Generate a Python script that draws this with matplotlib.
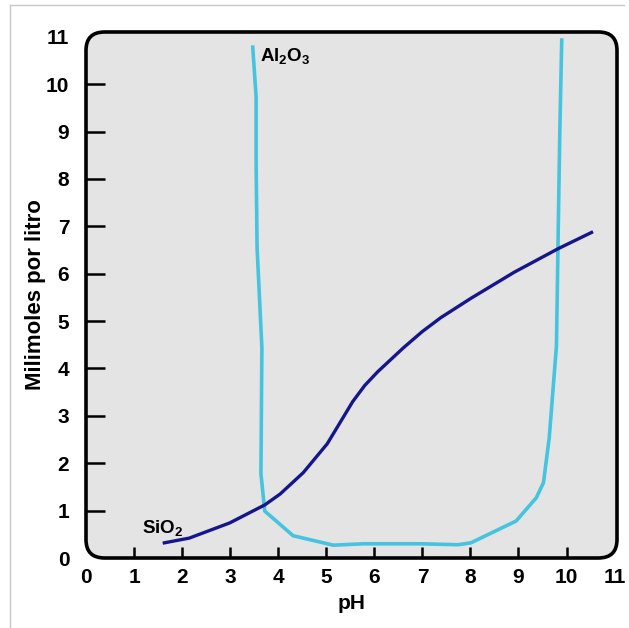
import matplotlib.pyplot as plt
from matplotlib.patches import FancyBboxPatch
from matplotlib.lines import Line2D

plt.rcParams['font.family'] = ['Liberation Sans', 'DejaVu Sans']
plt.rcParams['font.weight'] = 'bold'
plt.rcParams['mathtext.fontset'] = 'custom'
plt.rcParams['mathtext.rm'] = 'Liberation Sans:bold'
plt.rcParams['mathtext.bf'] = 'Liberation Sans:bold'

# Solubilidad de la alúmina (curva en U)
al_ph = [3.47, 3.54, 3.54, 3.56, 3.66, 3.64, 3.72, 4.31, 5.15, 5.77, 6.97,
         7.74, 8.01, 8.95, 9.37, 9.52, 9.64, 9.79, 9.83, 9.86, 9.90]
al_mm = [10.78, 9.73, 8.33, 6.55, 4.44, 1.78, 0.99, 0.47, 0.27, 0.30, 0.30,
         0.28, 0.32, 0.78, 1.27, 1.59, 2.54, 4.48, 7.12, 9.0, 10.93]

# Solubilidad de la sílice
si_ph = [1.63, 2.15, 2.99, 3.72, 4.04, 4.52, 5.02, 5.30, 5.55, 5.80, 6.07,
         6.61, 7.0, 7.38, 8.01, 8.91, 9.83, 10.52]
si_mm = [0.32, 0.42, 0.74, 1.12, 1.35, 1.80, 2.41, 2.88, 3.30, 3.64, 3.93,
         4.44, 4.78, 5.07, 5.48, 6.03, 6.53, 6.87]

ticks = list(range(0, 12))

fig = plt.figure(figsize=(6.29, 6.28), dpi=100)
ax = fig.add_axes([86 / 629, 70 / 628, 531 / 629, 526 / 628])
ax.set_xlim(0, 11.05)
ax.set_ylim(0, 11.1)

# fondo gris con esquinas redondeadas
ax.patch.set_visible(False)
for s in ax.spines.values():
    s.set_visible(False)
box = FancyBboxPatch((0, 0), 1, 1, boxstyle='round,pad=0,rounding_size=0.035',
                     transform=ax.transAxes, facecolor='#e4e4e4',
                     edgecolor='black', linewidth=2.6, clip_on=False, zorder=0)
ax.add_patch(box)

ax.plot(al_ph, al_mm, color='#45c3df', lw=2.6, zorder=3)
ax.plot(si_ph, si_mm, color='#15168c', lw=2.4, zorder=4)

ax.text(3.62, 10.6, r'$\mathrm{Al_2O_3}$', fontsize=13.5, ha='left', va='center')
ax.text(1.17, 0.63, r'$\mathrm{SiO_2}$', fontsize=13.5, ha='left', va='center')

ax.set_xticks(ticks)
ax.set_yticks(ticks)
ax.set_xticklabels([str(t) for t in ticks])
ax.set_yticklabels([str(t) for t in ticks])
ax.tick_params(axis='x', direction='in', length=8, width=1.8, pad=7, labelsize=15)
ax.tick_params(axis='y', direction='in', length=14, width=1.8, pad=12, labelsize=15)
for axis in (ax.xaxis, ax.yaxis):
    mt = axis.get_major_ticks()
    for t in (mt[0], mt[-1]):
        t.tick1line.set_visible(False)

ax.set_xlabel('pH', fontsize=15, fontweight='bold', labelpad=5)
ax.set_ylabel('Milimoles por litro', fontsize=16, fontweight='bold', labelpad=0)

# marco fino exterior
fig.add_artist(Line2D([10 / 629, 624 / 629], [1 - 5 / 628, 1 - 5 / 628],
                      color='#c8c8c8', lw=1, transform=fig.transFigure))
fig.add_artist(Line2D([10 / 629, 10 / 629], [0, 1 - 5 / 628],
                      color='#c8c8c8', lw=1, transform=fig.transFigure))

fig.savefig('out.png', dpi=100)
